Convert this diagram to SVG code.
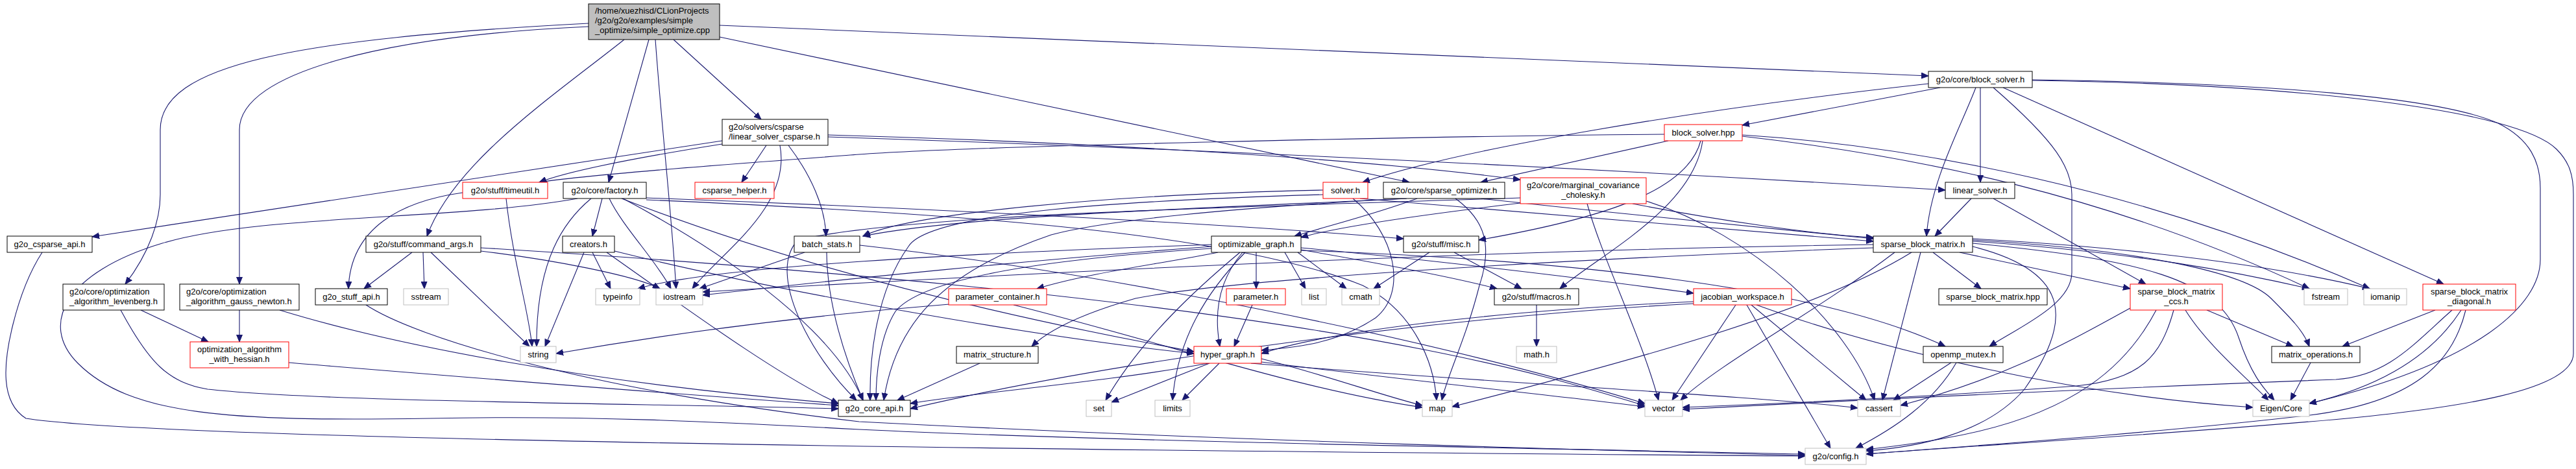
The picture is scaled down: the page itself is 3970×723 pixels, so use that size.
<svg xmlns="http://www.w3.org/2000/svg" width="3970" height="723" viewBox="0 0 3970 723">
<style>
.n rect{fill:#ffffff;stroke:#000000;stroke-width:1}
.n.r rect{stroke:#ff0000}
.n.g rect{stroke:#bfbfbf}
.n.root rect{fill:#bfbfbf}
text{font-family:"Liberation Sans",Arial,sans-serif;font-size:13px;fill:#000000}
.c{text-anchor:middle}
#edges path{fill:none;stroke:#191970;stroke-width:1.1;marker-end:url(#ah)}
</style>
<defs>
<marker id="ah" markerUnits="userSpaceOnUse" markerWidth="12" markerHeight="10" viewBox="0 0 12 10" refX="11" refY="5" orient="auto"><path d="M0,0.5 L11,5 L0,9.5 z" fill="#191970" stroke="#191970"/></marker>
</defs>
<rect x="0" y="0" width="3970" height="723" fill="#ffffff"/>
<g id="edges">
<!-- root -->
<path d="M907,36 C450,60 247,100 247,200 L247,300 C247,340 230,390 193,438"/>
<path d="M907,41 C600,55 369,110 369,200 L369,438"/>
<path d="M962,61 C850,150 700,250 658,364"/>
<path d="M1000,61 L938,281"/>
<path d="M1010,61 C1020,200 1035,330 1042,445"/>
<path d="M1038,61 L1173,184"/>
<path d="M1109,57 L2172,281"/>
<path d="M1109,39 L2972,117"/>
<!-- linear_solver_csparse -->
<path d="M1113,222 C1000,240 880,262 831,281"/>
<path d="M1113,217 L142,365"/>
<path d="M1181,224 L1143,281"/>
<path d="M1202,224 C1220,320 1110,390 1067,445"/>
<path d="M1215,224 C1250,270 1272,320 1273,364"/>
<path d="M1276,211 C1700,225 2300,250 2998,293"/>
<path d="M1276,208 C1700,220 2100,245 2343,277"/>
<!-- block_solver.h -->
<path d="M2972,129 C2600,170 2250,230 2100,281"/>
<path d="M2990,135 L2685,193"/>
<path d="M3045,135 C3020,200 2975,280 2969,364"/>
<path d="M3052,135 L3052,281"/>
<path d="M3072,135 C3170,220 3193,260 3193,300 L3193,420 C3193,470 3110,505 3066,534"/>
<path d="M3087,135 L3766,438"/>
<path d="M3132,123 C3500,128 3760,150 3850,190 C3900,215 3915,250 3915,290 L3915,400 C3915,470 3820,560 3559,622"/>
<path d="M3132,124 C3550,130 3880,170 3940,230 C3960,250 3966,270 3966,300 L3966,545 C3966,600 3800,630 3560,650 C3300,672 3000,690 2876,700"/>
<!-- block_solver.hpp -->
<path d="M2565,207 C2200,210 1500,225 1324,238 C1100,255 900,270 831,281"/>
<path d="M2571,217 L2282,281"/>
<path d="M2621,217 C2600,300 2450,340 2279,370"/>
<path d="M2624,217 C2610,320 2470,390 2404,445"/>
<path d="M2685,208 C2950,225 3300,290 3652,445"/>
<path d="M2685,210 C2950,240 3250,300 3559,445"/>
<!-- sparse_optimizer -->
<path d="M2184,306 C2120,330 2040,350 1995,364"/>
<path d="M2282,306 C2500,330 2750,355 2887,368"/>
<path d="M2167,306 C1900,320 1500,330 1330,364"/>
<path d="M2168,306 C1900,320 1700,340 1620,362 C1450,420 1380,500 1362,617"/>
<path d="M2243,306 C2290,340 2300,380 2280,440 C2260,520 2230,580 2222,617"/>
<!-- factory -->
<path d="M890,306 C700,340 400,330 250,375 C100,420 60,500 120,560 C200,640 350,650 662,645 C900,640 1100,650 1324,662 C1700,680 2300,690 2782,700"/>
<path d="M911,306 C870,340 826,400 827,534"/>
<path d="M928,306 L913,364"/>
<path d="M939,306 C960,350 1010,400 1034,445"/>
<path d="M958,306 C1200,400 1500,480 1840,542"/>
<path d="M996,305 C1400,320 1900,345 2163,368"/>
<path d="M996,308 C1500,330 1900,360 2100,440 C2180,480 2210,560 2214,617"/>
<path d="M960,306 C1100,380 1280,500 1330,617"/>
<!-- command_args -->
<path d="M635,389 L561,445"/>
<path d="M652,389 L654,445"/>
<path d="M664,389 L816,534"/>
<path d="M741,387 C850,400 980,425 1017,445"/>
<path d="M741,382 C1200,410 1800,460 2200,540 C2400,580 2480,610 2535,625"/>
<!-- creators -->
<path d="M900,389 L840,534"/>
<path d="M913,389 L941,445"/>
<path d="M947,387 C1200,450 1600,520 1840,545"/>
<path d="M935,389 C1050,470 1200,580 1292,622"/>
<!-- batch_stats -->
<path d="M1240,389 L1078,445"/>
<path d="M1274,389 C1275,480 1310,570 1330,617"/>
<path d="M1325,378 C1700,420 2200,520 2535,622"/>
<!-- timeutil -->
<path d="M780,306 C790,400 815,480 820,534"/>
<path d="M713,297 C620,310 540,350 537,445"/>
<!-- levenberg / gauss newton / hessian -->
<path d="M217,478 L321,527"/>
<path d="M186,478 C230,560 260,590 320,600 C500,620 1000,622 1292,630"/>
<path d="M369,478 L369,527"/>
<path d="M431,478 C600,530 900,590 1292,622"/>
<path d="M445,559 C700,580 1000,605 1292,625"/>
<!-- csparse_api / stuff_api -->
<path d="M65,389 C45,420 30,460 20,500 C5,560 0,620 40,645 C200,670 1000,690 2782,703"/>
<path d="M564,470 C640,520 900,600 1324,650 C1900,680 2500,695 2782,702"/>
<!-- optimizable_graph -->
<path d="M1867,377 C1500,390 1100,410 983,445"/>
<path d="M1867,380 C1600,400 1300,430 1083,455"/>
<path d="M1877,389 C1800,405 1680,420 1598,445"/>
<path d="M1936,389 L1936,445"/>
<path d="M1915,389 C1880,430 1870,480 1880,534"/>
<path d="M1911,389 C1850,440 1760,520 1704,617"/>
<path d="M1919,389 C1860,450 1815,520 1807,617"/>
<path d="M1867,383 C1600,400 1420,430 1380,480 C1355,520 1350,580 1350,617"/>
<path d="M1980,389 L2012,445"/>
<path d="M2000,389 L2075,445"/>
<path d="M2005,385 C2150,410 2250,430 2307,445"/>
<path d="M2005,382 C2200,400 2450,430 2610,452"/>
<path d="M2005,386 C2400,400 2800,440 2998,534"/>
<!-- misc / macros -->
<path d="M2203,389 L2117,445"/>
<path d="M2241,389 L2345,445"/>
<path d="M2368,470 L2368,534"/>
<!-- solver -->
<path d="M2085,306 C2150,360 2170,450 2120,490 C2060,530 2000,535 1944,540"/>
<path d="M2039,293 C1700,300 1400,330 1330,364"/>
<path d="M2096,306 C2400,330 2700,355 2887,372"/>
<path d="M2039,300 C1700,310 1430,330 1400,380 C1350,450 1340,550 1341,617"/>
<!-- marginal covariance -->
<path d="M2343,313 C2200,330 2060,350 2005,366"/>
<path d="M2516,314 C2650,340 2800,362 2887,366"/>
<path d="M2446,314 C2470,400 2530,520 2556,617"/>
<path d="M2537,310 C2700,360 2850,500 2889,617"/>
<path d="M2343,305 C1900,320 1400,330 1230,370 C1180,420 1250,550 1320,617"/>
<!-- hyper_graph -->
<path d="M1862,560 C1700,590 1500,605 1403,622"/>
<path d="M1864,560 L1713,620"/>
<path d="M1879,560 L1822,617"/>
<path d="M1944,553 C2050,580 2130,610 2192,625"/>
<path d="M1944,558 C2200,590 2400,610 2535,627"/>
<path d="M1928,560 C2300,590 2700,610 2863,629"/>
<path d="M1930,470 L1902,534"/>
<path d="M1463,469 C1200,490 1000,520 857,545"/>
<path d="M1562,470 C1800,530 2000,600 2192,628"/>
<path d="M1510,560 L1383,617"/>
<!-- sparse_block_matrix -->
<path d="M2887,382 C2400,400 1900,430 1750,460 C1680,480 1620,505 1590,534"/>
<path d="M2887,377 C2300,385 1600,420 1083,450"/>
<path d="M2946,389 C2800,480 2500,560 2238,627"/>
<path d="M2920,389 C2800,480 2650,560 2590,617"/>
<path d="M2960,389 L2901,617"/>
<path d="M2979,389 L3053,445"/>
<path d="M3020,389 L3283,445"/>
<path d="M3040,380 C3200,420 3190,500 3120,600 C3060,670 2950,690 2876,695"/>
<path d="M3040,372 C3300,390 3450,420 3559,445"/>
<path d="M3040,368 C3350,385 3550,420 3652,445"/>
<path d="M3040,375 C3300,400 3420,430 3450,520 C3470,580 3490,600 3505,617"/>
<path d="M3040,370 C3300,385 3460,420 3500,460 C3530,490 3550,510 3559,534"/>
<!-- ccs / diagonal / matrix_operations -->
<path d="M3368,478 C3400,530 3460,580 3496,617"/>
<path d="M3401,478 L3534,534"/>
<path d="M3283,475 C3200,520 3100,580 2929,625"/>
<path d="M3350,478 C3330,550 3300,585 3200,595 C3000,610 2800,620 2593,628"/>
<path d="M3323,478 C3280,560 3200,640 3000,675 C2950,685 2900,690 2876,693"/>
<path d="M3753,478 L3610,534"/>
<path d="M3779,478 C3720,530 3680,580 3600,585 C3200,600 2900,615 2593,631"/>
<path d="M3793,478 C3740,560 3650,600 3559,622"/>
<path d="M3800,478 C3780,560 3720,620 3560,640 C3300,670 3000,690 2876,700"/>
<path d="M3561,559 L3530,617"/>
<!-- linear_solver / openmp -->
<path d="M3038,306 L2982,364"/>
<path d="M3072,306 L3307,438"/>
<path d="M3007,559 L2918,617"/>
<path d="M3015,559 C2980,620 2920,660 2860,691"/>
<!-- jacobian_workspace -->
<path d="M2610,465 C2300,480 2050,510 1944,545"/>
<path d="M2610,468 C2200,490 1700,560 1403,630"/>
<path d="M2675,470 L2577,617"/>
<path d="M2699,470 L2876,617"/>
<path d="M2692,470 L2821,691"/>
<path d="M2707,470 C2900,540 3200,610 3472,628"/>
</g>
<g id="n_root" class="n root"><rect x="907" y="6" width="202" height="55"/><text x="917" y="21">/home/xuezhisd/CLionProjects</text><text x="917" y="36">/g2o/g2o/examples/simple</text><text x="917" y="51">_optimize/simple_optimize.cpp</text></g>
<g id="n_block_solver_h" class="n"><rect x="2972" y="110" width="160" height="25"/><text class="c" x="3052" y="127">g2o/core/block_solver.h</text></g>
<g id="n_linear_solver_csparse" class="n"><rect x="1113" y="184" width="163" height="40"/><text x="1123" y="200">g2o/solvers/csparse</text><text x="1123" y="215">/linear_solver_csparse.h</text></g>
<g id="n_block_solver_hpp" class="n r"><rect x="2565" y="192" width="120" height="25"/><text class="c" x="2625" y="209">block_solver.hpp</text></g>
<g id="n_timeutil" class="n r"><rect x="713" y="281" width="131" height="25"/><text class="c" x="778.5" y="298">g2o/stuff/timeutil.h</text></g>
<g id="n_factory" class="n"><rect x="868" y="281" width="128" height="25"/><text class="c" x="932" y="298">g2o/core/factory.h</text></g>
<g id="n_csparse_helper" class="n r"><rect x="1071" y="281" width="122" height="25"/><text class="c" x="1132" y="298">csparse_helper.h</text></g>
<g id="n_solver" class="n r"><rect x="2039" y="281" width="69" height="25"/><text class="c" x="2073.5" y="298">solver.h</text></g>
<g id="n_sparse_optimizer" class="n"><rect x="2132" y="281" width="187" height="25"/><text class="c" x="2225.5" y="298">g2o/core/sparse_optimizer.h</text></g>
<g id="n_marginal_covariance" class="n r"><rect x="2343" y="274" width="194" height="40"/><text class="c" x="2440" y="290">g2o/core/marginal_covariance</text><text class="c" x="2440" y="305">_cholesky.h</text></g>
<g id="n_linear_solver" class="n"><rect x="2998" y="281" width="107" height="25"/><text class="c" x="3051.5" y="298">linear_solver.h</text></g>
<g id="n_csparse_api" class="n"><rect x="11" y="364" width="131" height="25"/><text class="c" x="76.5" y="381">g2o_csparse_api.h</text></g>
<g id="n_command_args" class="n"><rect x="564" y="364" width="177" height="25"/><text class="c" x="652.5" y="381">g2o/stuff/command_args.h</text></g>
<g id="n_creators" class="n"><rect x="867" y="364" width="80" height="25"/><text class="c" x="907" y="381">creators.h</text></g>
<g id="n_batch_stats" class="n"><rect x="1224" y="364" width="101" height="25"/><text class="c" x="1274.5" y="381">batch_stats.h</text></g>
<g id="n_optimizable_graph" class="n"><rect x="1867" y="364" width="138" height="25"/><text class="c" x="1936" y="381">optimizable_graph.h</text></g>
<g id="n_misc" class="n"><rect x="2163" y="364" width="116" height="25"/><text class="c" x="2221" y="381">g2o/stuff/misc.h</text></g>
<g id="n_sparse_block_matrix" class="n"><rect x="2887" y="364" width="153" height="25"/><text class="c" x="2963.5" y="381">sparse_block_matrix.h</text></g>
<g id="n_levenberg" class="n"><rect x="97" y="438" width="156" height="40"/><text x="107" y="454">g2o/core/optimization</text><text x="107" y="469">_algorithm_levenberg.h</text></g>
<g id="n_gauss_newton" class="n"><rect x="277" y="438" width="184" height="40"/><text x="287" y="454">g2o/core/optimization</text><text x="287" y="469">_algorithm_gauss_newton.h</text></g>
<g id="n_sbm_ccs" class="n r"><rect x="3283" y="438" width="142" height="40"/><text class="c" x="3354" y="454">sparse_block_matrix</text><text class="c" x="3354" y="469">_ccs.h</text></g>
<g id="n_sbm_diagonal" class="n r"><rect x="3734" y="438" width="143" height="40"/><text class="c" x="3805.5" y="454">sparse_block_matrix</text><text class="c" x="3805.5" y="469">_diagonal.h</text></g>
<g id="n_stuff_api" class="n"><rect x="486" y="445" width="111" height="25"/><text class="c" x="541.5" y="462">g2o_stuff_api.h</text></g>
<g id="n_sstream" class="n g"><rect x="622" y="445" width="69" height="25"/><text class="c" x="656.5" y="462">sstream</text></g>
<g id="n_typeinfo" class="n g"><rect x="918" y="445" width="68" height="25"/><text class="c" x="952" y="462">typeinfo</text></g>
<g id="n_iostream" class="n g"><rect x="1011" y="445" width="72" height="25"/><text class="c" x="1047" y="462">iostream</text></g>
<g id="n_parameter_container" class="n r"><rect x="1462" y="445" width="151" height="25"/><text class="c" x="1537.5" y="462">parameter_container.h</text></g>
<g id="n_parameter" class="n r"><rect x="1890" y="445" width="91" height="25"/><text class="c" x="1935.5" y="462">parameter.h</text></g>
<g id="n_list" class="n g"><rect x="2006" y="445" width="38" height="25"/><text class="c" x="2025" y="462">list</text></g>
<g id="n_cmath" class="n g"><rect x="2068" y="445" width="58" height="25"/><text class="c" x="2097" y="462">cmath</text></g>
<g id="n_macros" class="n"><rect x="2303" y="445" width="130" height="25"/><text class="c" x="2368" y="462">g2o/stuff/macros.h</text></g>
<g id="n_jacobian_workspace" class="n r"><rect x="2610" y="445" width="151" height="25"/><text class="c" x="2685.5" y="462">jacobian_workspace.h</text></g>
<g id="n_sbm_hpp" class="n"><rect x="2988" y="445" width="167" height="25"/><text class="c" x="3071.5" y="462">sparse_block_matrix.hpp</text></g>
<g id="n_fstream" class="n g"><rect x="3551" y="445" width="67" height="25"/><text class="c" x="3584.5" y="462">fstream</text></g>
<g id="n_iomanip" class="n g"><rect x="3643" y="445" width="66" height="25"/><text class="c" x="3676" y="462">iomanip</text></g>
<g id="n_with_hessian" class="n r"><rect x="293" y="527" width="152" height="40"/><text class="c" x="369" y="543">optimization_algorithm</text><text class="c" x="369" y="558">_with_hessian.h</text></g>
<g id="n_string" class="n g"><rect x="802" y="534" width="55" height="25"/><text class="c" x="829.5" y="551">string</text></g>
<g id="n_matrix_structure" class="n"><rect x="1474" y="534" width="126" height="26"/><text class="c" x="1537" y="551">matrix_structure.h</text></g>
<g id="n_hyper_graph" class="n r"><rect x="1840" y="534" width="104" height="26"/><text class="c" x="1892" y="551">hyper_graph.h</text></g>
<g id="n_math" class="n g"><rect x="2337" y="534" width="62" height="25"/><text class="c" x="2368" y="551">math.h</text></g>
<g id="n_openmp_mutex" class="n"><rect x="2964" y="534" width="123" height="25"/><text class="c" x="3025.5" y="551">openmp_mutex.h</text></g>
<g id="n_matrix_operations" class="n"><rect x="3501" y="534" width="136" height="25"/><text class="c" x="3569" y="551">matrix_operations.h</text></g>
<g id="n_core_api" class="n"><rect x="1292" y="617" width="111" height="25"/><text class="c" x="1347.5" y="634">g2o_core_api.h</text></g>
<g id="n_set" class="n g"><rect x="1674" y="617" width="39" height="25"/><text class="c" x="1693.5" y="634">set</text></g>
<g id="n_limits" class="n g"><rect x="1780" y="617" width="54" height="25"/><text class="c" x="1807" y="634">limits</text></g>
<g id="n_map" class="n g"><rect x="2192" y="617" width="46" height="25"/><text class="c" x="2215" y="634">map</text></g>
<g id="n_vector" class="n g"><rect x="2535" y="617" width="58" height="25"/><text class="c" x="2564" y="634">vector</text></g>
<g id="n_cassert" class="n g"><rect x="2863" y="617" width="66" height="25"/><text class="c" x="2896" y="634">cassert</text></g>
<g id="n_eigen_core" class="n g"><rect x="3472" y="617" width="87" height="25"/><text class="c" x="3515.5" y="634">Eigen/Core</text></g>
<g id="n_config" class="n g"><rect x="2782" y="691" width="94" height="25"/><text class="c" x="2829" y="708">g2o/config.h</text></g>
</svg>
